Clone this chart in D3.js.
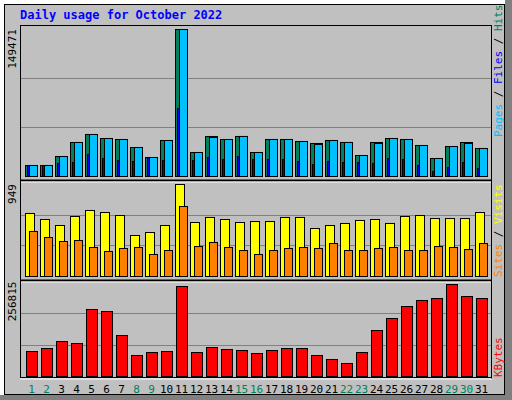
<!DOCTYPE html>
<html><head><meta charset="utf-8">
<script src="https://d3js.org/d3.v7.min.js"></script>
<style>body{margin:0;background:#fff}</style>
</head><body>
<script>
var days = d3.range(1, 32);
var weekend = [1, 2, 8, 9, 15, 16, 22, 23, 29, 30];
var hits = [11190, 11190, 20340, 34590, 42720, 38650, 37630, 29490, 19320, 36610, 149471, 24410, 40690, 37630, 40690, 24410,
  37630, 37630, 35600, 33560, 36610, 34590, 21360, 34590, 38650, 37630, 31530, 18310, 30510, 34590, 28480];
var files = [11190, 11190, 20340, 34590, 42720, 38650, 37630, 29490, 19320, 36610, 149471, 24410, 39670, 37630, 40690, 24410,
  37630, 37630, 35600, 32540, 36610, 34590, 21360, 33560, 38650, 37630, 31530, 18310, 30510, 33560, 28480];
var pages = [11190, 11190, 13220, 14240, 22370, 18310, 16270, 15260, 19320, 16270, 69170, 16270, 19320, 17290, 20340, 17290,
  17290, 17290, 15260, 12200, 15260, 14240, 14240, 13220, 18310, 17290, 11190, 5090, 9150, 14240, 8140];
var visits = [650, 588, 526, 619, 681, 660, 629, 423, 454, 526, 949, 557, 609, 588, 557, 567,
  567, 609, 609, 495, 526, 547, 578, 588, 547, 619, 629, 598, 598, 598, 660];
var sites = [464, 402, 361, 371, 299, 258, 289, 299, 227, 268, 722, 309, 351, 299, 268, 227,
  268, 289, 299, 289, 340, 268, 268, 289, 299, 268, 268, 309, 299, 278, 340];
var kbytes = [67940, 76090, 95120, 89680, 182080, 176640, 111420, 57070, 65220, 67940, 244580, 65220, 78810, 73380, 70660, 62510,
  70660, 76090, 76090, 57070, 46200, 35330, 65220, 125010, 157620, 190230, 206540, 211970, 250020, 217410, 211970];

var W = 512, H = 400;
var mono = "'DejaVu Sans Mono', monospace";
var svg = d3.select("body").append("svg").attr("width", W).attr("height", H);

// background and window frame
svg.append("rect").attr("width", W).attr("height", H).attr("fill", "#c0c0c0");
svg.append("rect").attr("x", 505).attr("y", 0).attr("width", 7).attr("height", H).attr("fill", "#808080");
svg.append("rect").attr("x", 0).attr("y", 395).attr("width", W).attr("height", 5).attr("fill", "#808080");
svg.append("rect").attr("x", 0).attr("y", 0).attr("width", 4).attr("height", 395).attr("fill", "#fff");
svg.append("rect").attr("x", 0).attr("y", 0).attr("width", 505).attr("height", 4).attr("fill", "#fff");
svg.append("rect").attr("x", 4.5).attr("y", 4.5).attr("width", 500).attr("height", 390).attr("fill", "none").attr("stroke", "#000");

svg.append("text").attr("x", 20).attr("y", 19).attr("fill", "#0000ff")
  .style("font", "bold 12px " + mono).text("Daily usage for October 2022");

var x = d3.scaleLinear().domain([1, 32]).range([25, 25 + 31 * 15]);

var panels = [
  {top: 29, bottom: 176, max: 149471, label: "149471"},
  {top: 184, bottom: 276, max: 949, label: "949"},
  {top: 281.5, bottom: 376, max: 256815, label: "256815"}
];
panels.forEach(function(p) {
  p.y = d3.scaleLinear().domain([0, p.max]).range([p.bottom, p.top]);
  [1 / 3, 2 / 3].forEach(function(f) {
    svg.append("line").attr("x1", 21).attr("x2", 491)
      .attr("y1", Math.round(p.y(p.max * f)) + 0.5).attr("y2", Math.round(p.y(p.max * f)) + 0.5)
      .attr("stroke", "#808080");
  });
  svg.append("text").attr("transform", "translate(16," + p.top + ") rotate(-90)")
    .attr("text-anchor", "end").style("font", "11px " + mono).text(p.label);
});

function bars(vals, p, off, w, color) {
  svg.append("g").selectAll("rect").data(vals).enter().append("rect")
    .attr("x", function(d, i) { return x(days[i]) + off + 0.5; })
    .attr("width", w)
    .attr("y", function(d) { return p.y(d) + 0.5; })
    .attr("height", function(d) { return p.bottom - p.y(d); })
    .attr("fill", color).attr("stroke", "#000");
}
bars(hits, panels[0], 0, 12, "#00805c");
bars(pages, panels[0], 2, 8, "#0000ff");
bars(files, panels[0], 4, 8, "#00c0ff");
bars(visits, panels[1], 0, 9, "#ffff00");
bars(sites, panels[1], 4, 8, "#ff8000");
bars(kbytes, panels[2], 1, 11, "#ff0000");

// panel frames
[25, 180, 280].forEach(function(yy, i) {
  svg.append("line").attr("x1", 20).attr("x2", 492).attr("y1", yy + 0.5).attr("y2", yy + 0.5).attr("stroke", "#000").attr("stroke-width", i ? 2 : 1);
  if (i) svg.append("line").attr("x1", 20).attr("x2", 492).attr("y1", yy + 2).attr("y2", yy + 2).attr("stroke", "#fff");
});
svg.append("line").attr("x1", 20.5).attr("x2", 20.5).attr("y1", 25).attr("y2", 378).attr("stroke", "#000");
svg.append("line").attr("x1", 491.5).attr("x2", 491.5).attr("y1", 25).attr("y2", 379).attr("stroke", "#000");
svg.append("line").attr("x1", 20).attr("x2", 492).attr("y1", 377.5).attr("y2", 377.5).attr("stroke", "#000");
svg.append("line").attr("x1", 20).attr("x2", 492).attr("y1", 379).attr("y2", 379).attr("stroke", "#fff");

// day labels
svg.append("g").selectAll("text").data(days).enter().append("text")
  .attr("x", function(d) { return x(d) + 6.5; }).attr("y", 393)
  .attr("text-anchor", "middle").style("font", "11px " + mono)
  .attr("fill", function(d) { return weekend.indexOf(d) >= 0 ? "#00805c" : "#000"; })
  .text(function(d) { return d; });

// right legends
function legend(y0, parts) {
  var t = svg.append("text").attr("transform", "translate(502," + y0 + ") rotate(-90)")
    .style("font", "11px " + mono);
  parts.forEach(function(pt) { t.append("tspan").attr("fill", pt[1]).text(pt[0]); });
}
legend(137, [["Pages", "#00c0ff"], [" / ", "#000"], ["Files", "#0000ff"], [" / ", "#000"], ["Hits", "#00805c"]]);
legend(277, [["Sites", "#ff8000"], [" / ", "#000"], ["Visits", "#ffff00"]]);
legend(377, [["KBytes", "#ff0000"]]);
</script>
</body></html>
